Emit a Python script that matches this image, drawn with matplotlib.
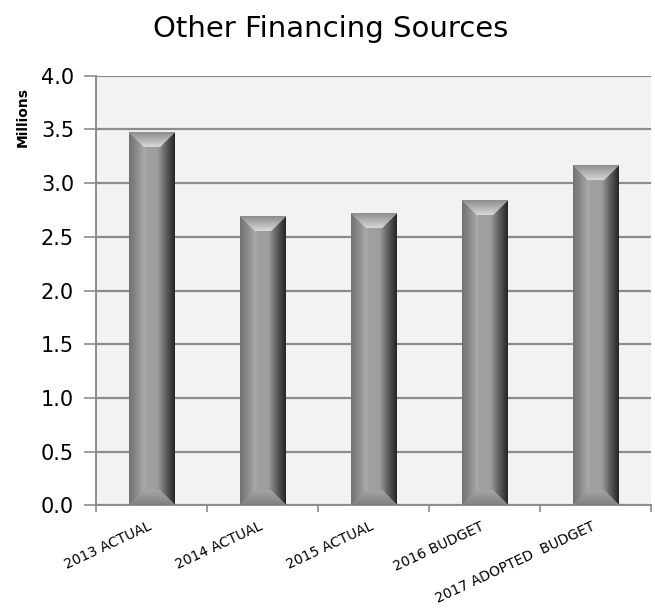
import matplotlib
matplotlib.use('Agg')
import matplotlib.pyplot as plt
import matplotlib.transforms as mtransforms
import numpy as np

categories = ['2013 ACTUAL', '2014 ACTUAL', '2015 ACTUAL', '2016 BUDGET', '2017 ADOPTED  BUDGET']
values = [3.47, 2.69, 2.71, 2.84, 3.16]
yticks = [0.0, 0.5, 1.0, 1.5, 2.0, 2.5, 3.0, 3.5, 4.0]

def bar_image(w, h, bev=15):
    # beveled grey look, built in pixel units
    u = np.arange(w) + 0.5
    v = np.arange(h) + 0.5
    U, V = np.meshgrid(u, v)
    dl, dr, dt, db = U, w - U, V, h - V
    g = np.interp(U / w, [0, 0.1, 0.3, 0.34, 0.36, 0.62, 0.8, 1.0],
                  [0.45, 0.5, 0.64, 0.68, 0.63, 0.62, 0.38, 0.14])
    top = (dt < bev) & (dt <= dl) & (dt <= dr)
    g = np.where(top, 0.55 + 0.3 * dt / bev, g)
    bot = (db < bev) & (db <= dl) & (db <= dr)
    g = np.where(bot, 0.5 + 0.15 * db / bev, g)
    return np.dstack([g, g, g])

fig = plt.figure(figsize=(6.55, 6.11), dpi=100)
ax = fig.add_axes([0.147, 0.173, 0.847, 0.703])
ax.set_facecolor('#f2f2f2')
x = np.arange(len(categories))
ax.set_xlim(-0.5, len(categories) - 0.5)
ax.set_ylim(0, 4.0)
bars = ax.bar(x, values, width=0.41, color='none', zorder=3)

for b in bars:
    x0, y0 = b.get_x(), b.get_y()
    x1, y1 = x0 + b.get_width(), y0 + b.get_height()
    p0 = ax.transData.transform((x0, y0))
    p1 = ax.transData.transform((x1, y1))
    wpx = int(round(p1[0] - p0[0]))
    hpx = int(round(p1[1] - p0[1]))
    ax.imshow(bar_image(wpx, hpx), extent=(x0, x1, y0, y1), aspect='auto',
              interpolation='bilinear', zorder=3)
ax.set_xlim(-0.5, len(categories) - 0.5)
ax.set_ylim(0, 4.0)

ax.set_yticks(yticks)
ax.set_yticklabels(['%.1f' % t for t in yticks], fontsize=15)
ax.yaxis.grid(True, color='#8c8c8c', lw=1.6, zorder=1)
ax.set_axisbelow(True)
ax.tick_params(axis='y', length=9, color='#8c8c8c', width=1.2, pad=7)

ax.set_xticks(x)
ax.set_xticklabels(categories, rotation=25, ha='right', rotation_mode='anchor', fontsize=10)
ax.set_xticks(np.arange(len(categories) + 1) - 0.5, minor=True)
ax.tick_params(axis='x', which='major', length=0, pad=10)
ax.tick_params(axis='x', which='minor', length=5, color='#8c8c8c', width=1.2)
shift = mtransforms.ScaledTranslation(-4 / 100, 0, fig.dpi_scale_trans)
for lab in ax.get_xticklabels():
    lab.set_transform(lab.get_transform() + shift)

for s in ['top', 'right']:
    ax.spines[s].set_visible(False)
for s in ['left', 'bottom']:
    ax.spines[s].set_color('#8c8c8c')
    ax.spines[s].set_linewidth(1.4)

ax.set_ylabel('Millions', fontsize=10, fontweight='bold')
ax.yaxis.set_label_coords(-0.12, 0.904)
fig.text(0.505, 0.939, 'Other Financing Sources', ha='center', va='baseline', fontsize=21)

fig.savefig('out.png', dpi=100)
